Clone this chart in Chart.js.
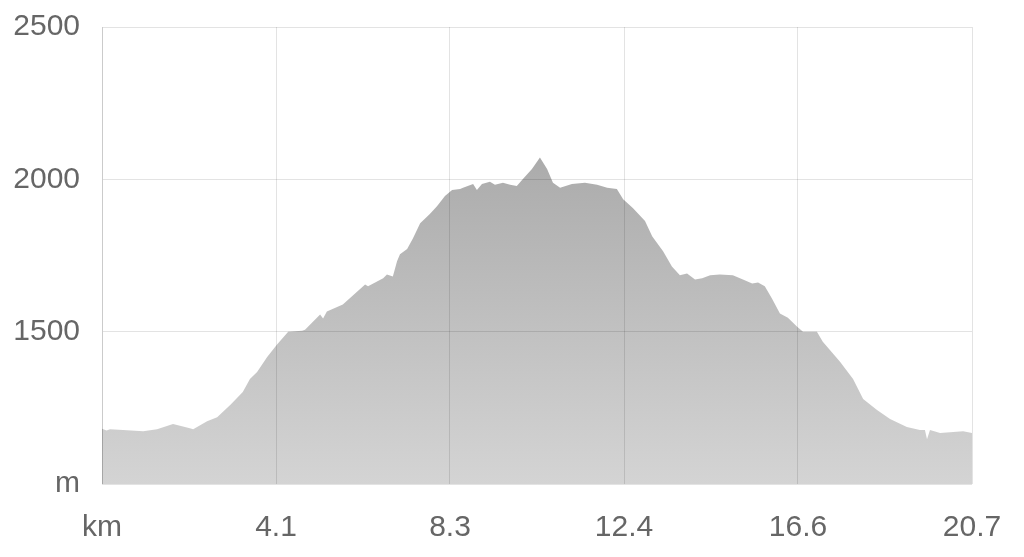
<!DOCTYPE html>
<html>
<head>
<meta charset="utf-8">
<script src="https://cdn.jsdelivr.net/npm/chart.js@4/dist/chart.umd.min.js"></script>
<style>
  html, body { margin: 0; padding: 0; background: #fff; }
  #wrap { width: 1024px; height: 557px; }
</style>
</head>
<body>
<div id="wrap"><canvas id="profile" width="1024" height="557"></canvas></div>
<script>
// distance along the track (km) and elevation (m)
const distanceKm = [
  0, 0.11, 0.19, 0.50, 0.98, 1.31, 1.69, 2.09, 2.17, 2.50, 2.74, 3.05, 3.35, 3.52, 3.69, 3.93,
  4.16, 4.43, 4.76, 4.83, 5.19, 5.26, 5.35, 5.73, 6.26, 6.33, 6.69, 6.78, 6.92, 7.02, 7.09,
  7.26, 7.40, 7.57, 7.80, 7.97, 8.16, 8.33, 8.52, 8.59, 8.83, 8.92, 9.04, 9.23, 9.35, 9.54,
  9.71, 9.87, 10.02, 10.23, 10.42, 10.59, 10.73, 10.90, 11.18, 11.49, 11.78, 12.02, 12.25,
  12.40, 12.63, 12.92, 13.09, 13.35, 13.56, 13.75, 13.92, 14.11, 14.28, 14.47, 14.70, 15.01,
  15.25, 15.47, 15.61, 15.77, 15.94, 16.13, 16.32, 16.54, 16.68, 17.01, 17.15, 17.56, 17.87,
  18.11, 18.44, 18.75, 19.15, 19.46, 19.58, 19.63, 19.70, 19.94, 20.49, 20.70
];
const elevationM = [
  1181, 1176, 1180, 1177, 1173, 1180, 1197, 1183, 1180, 1206, 1219, 1259, 1302, 1345, 1368, 1417,
  1457, 1500, 1503, 1506, 1556, 1543, 1566, 1589, 1655, 1649, 1675, 1688, 1681, 1731, 1754,
  1771, 1807, 1856, 1886, 1912, 1945, 1965, 1968, 1972, 1985, 1965, 1985, 1992, 1982, 1989,
  1982, 1978, 2002, 2034, 2072, 2034, 1989, 1972, 1985, 1989, 1982, 1972, 1968,
  1935, 1906, 1863, 1813, 1764, 1714, 1685, 1691, 1671, 1675, 1685, 1688, 1685,
  1671, 1658, 1661, 1649, 1609, 1560, 1546, 1516, 1500, 1500, 1467, 1401, 1345,
  1279, 1243, 1213, 1187, 1177, 1177, 1147, 1177, 1167, 1173, 1167
];
const xTickValues = [0, 4.14, 8.28, 12.42, 16.56, 20.7];
const xTickLabels = ['km', '4.1', '8.3', '12.4', '16.6', '20.7'];
const yTickValues = [1000, 1500, 2000, 2500];
const yTickLabels = ['m', '1500', '2000', '2500'];

let points = [];
for (let i = 0; i < distanceKm.length; i++) {
  points.push({x: distanceKm[i], y: elevationM[i]});
}

function profileGradient(context) {
  const chart = context.chart;
  const area = chart.chartArea;
  if (!area) return 'rgb(190,190,190)';
  const g = chart.ctx.createLinearGradient(0, area.top, 0, area.bottom);
  g.addColorStop(0, 'rgb(155,155,155)');
  g.addColorStop(1, 'rgb(212,212,212)');
  return g;
}

const labelFont = {family: '"Liberation Sans", Arial, sans-serif', size: 30};
const gridColor = 'rgba(0,0,0,0.11)';

const ctx = document.getElementById('profile').getContext('2d');
const profileChart = new Chart(ctx, {
  type: 'line',
  data: {
    datasets: [{
      data: points,
      fill: 'start',
      backgroundColor: profileGradient,
      borderWidth: 0,
      pointRadius: 0,
      tension: 0
    }]
  },
  options: {
    responsive: false,
    animation: false,
    layout: {padding: {top: 27, right: 52, left: 0, bottom: 0}},
    plugins: {legend: {display: false}, tooltip: {enabled: false}},
    scales: {
      x: {
        type: 'linear',
        min: 0,
        max: 20.7,
        afterBuildTicks: axis => { axis.ticks = xTickValues.map(v => ({value: v})); },
        afterFit: axis => {
          axis.height = 73;
          axis.paddingLeft = 0;
          axis.paddingRight = 0;
        },
        ticks: {
          autoSkip: false,
          maxRotation: 0,
          padding: 26,
          color: '#666',
          font: labelFont,
          callback: (value, index) => xTickLabels[index]
        },
        grid: {color: gridColor, drawTicks: false, z: 1},
        border: {display: false}
      },
      y: {
        min: 1000,
        max: 2500,
        afterBuildTicks: axis => { axis.ticks = yTickValues.map(v => ({value: v})); },
        afterFit: axis => {
          axis.width = 102;
          axis.paddingTop = 0;
          axis.paddingBottom = 0;
        },
        ticks: {
          padding: 22,
          color: '#666',
          font: labelFont,
          callback: (value, index) => yTickLabels[index]
        },
        grid: {color: gridColor, drawTicks: false, z: 1},
        border: {color: gridColor, z: 1}
      }
    }
  }
});
</script>
</body>
</html>
